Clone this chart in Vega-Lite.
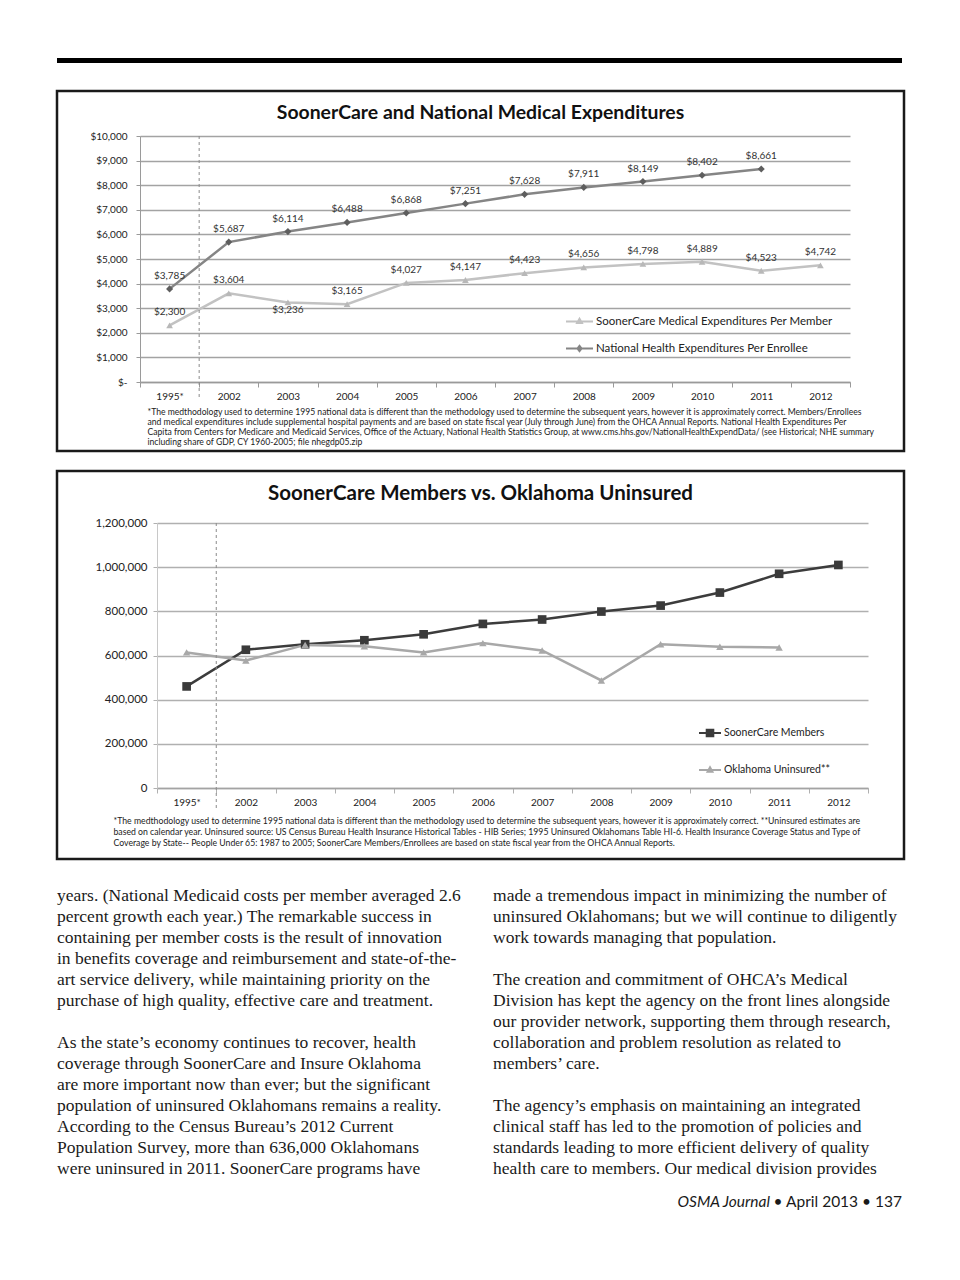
{
  "$schema": "https://vega.github.io/schema/vega-lite/v6.json",
  "padding": {"left": 55, "top": 58, "right": 10, "bottom": 10},
  "background": "white",
  "config": {"view": {"stroke": null}, "font": "Lato"},
  "spacing": 24,
  "resolve": {"scale": {"x": "independent", "y": "independent", "color": "independent", "shape": "independent", "size": "independent"}, "legend": {"color": "independent"}},
  "vconcat": [
    {
      "spacing": 16,
      "resolve": {"scale": {"x": "independent", "y": "independent", "color": "independent", "shape": "independent", "size": "independent"}, "legend": {"color": "independent"}},
      "vconcat": [
        {
          "spacing": 26,
          "resolve": {"scale": {"x": "independent", "y": "independent", "color": "independent", "shape": "independent", "size": "independent"}, "legend": {"color": "independent"}},
          "vconcat": [
            {
              "width": 845,
              "height": 5,
              "data": {"values": [{}]},
              "mark": {"type": "rect", "color": "#000000"},
              "encoding": {}
            },
            {
              "width": 847,
              "height": 360,
              "view": {"stroke": "#1a1a1a", "strokeWidth": 2.5, "fill": "white"},
              "title": {"text": "SoonerCare and National Medical Expenditures", "offset": -32, "fontSize": 19.4, "fontWeight": "bold", "font": "Lato", "color": "#111111", "anchor": "middle"},
              "data": {"values": [
                {"year": "1995*", "series": "SoonerCare Medical Expenditures Per Member", "value": 2300},
                {"year": "2002", "series": "SoonerCare Medical Expenditures Per Member", "value": 3604},
                {"year": "2003", "series": "SoonerCare Medical Expenditures Per Member", "value": 3236},
                {"year": "2004", "series": "SoonerCare Medical Expenditures Per Member", "value": 3165},
                {"year": "2005", "series": "SoonerCare Medical Expenditures Per Member", "value": 4027},
                {"year": "2006", "series": "SoonerCare Medical Expenditures Per Member", "value": 4147},
                {"year": "2007", "series": "SoonerCare Medical Expenditures Per Member", "value": 4423},
                {"year": "2008", "series": "SoonerCare Medical Expenditures Per Member", "value": 4656},
                {"year": "2009", "series": "SoonerCare Medical Expenditures Per Member", "value": 4798},
                {"year": "2010", "series": "SoonerCare Medical Expenditures Per Member", "value": 4889},
                {"year": "2011", "series": "SoonerCare Medical Expenditures Per Member", "value": 4523},
                {"year": "2012", "series": "SoonerCare Medical Expenditures Per Member", "value": 4742},
                {"year": "1995*", "series": "National Health Expenditures Per Enrollee", "value": 3785},
                {"year": "2002", "series": "National Health Expenditures Per Enrollee", "value": 5687},
                {"year": "2003", "series": "National Health Expenditures Per Enrollee", "value": 6114},
                {"year": "2004", "series": "National Health Expenditures Per Enrollee", "value": 6488},
                {"year": "2005", "series": "National Health Expenditures Per Enrollee", "value": 6868},
                {"year": "2006", "series": "National Health Expenditures Per Enrollee", "value": 7251},
                {"year": "2007", "series": "National Health Expenditures Per Enrollee", "value": 7628},
                {"year": "2008", "series": "National Health Expenditures Per Enrollee", "value": 7911},
                {"year": "2009", "series": "National Health Expenditures Per Enrollee", "value": 8149},
                {"year": "2010", "series": "National Health Expenditures Per Enrollee", "value": 8402},
                {"year": "2011", "series": "National Health Expenditures Per Enrollee", "value": 8661}
              ]},
              "layer": [
                {
                  "mark": {"type": "line", "strokeWidth": 2.5},
                  "encoding": {
                    "x": {"field": "year", "type": "nominal", "sort": null,
                      "scale": {"type": "band", "domain": ["1995*", "2002", "2003", "2004", "2005", "2006", "2007", "2008", "2009", "2010", "2011", "2012"], "range": [83, 793], "paddingInner": 0, "paddingOuter": 0},
                      "axis": {"orient": "bottom", "offset": -69, "labelAngle": 0, "grid": false, "labelFontSize": 10, "labelColor": "#222222", "labelPadding": 4, "tickBand": "extent", "tickSize": 5, "tickColor": "#9a9a9a", "domainColor": "#9a9a9a", "domainWidth": 1.5,
                        "title": ["*The medthodology used to determine 1995 national data is different than the methodology used to determine the subsequent years, however it is approximately correct. Members/Enrollees", "and medical expenditures include supplemental hospital payments and  are based on state fiscal year (July through June) from the OHCA Annual Reports. National Health Expenditures Per", "Capita from Centers for Medicare and Medicaid Services, Office of the Actuary, National Health Statistics Group, at www.cms.hhs.gov/NationalHealthExpendData/ (see Historical; NHE summary", "including share of GDP, CY 1960-2005; file nhegdp05.zip"],
                        "titleX": 90, "titleY": 25, "titleAnchor": "start", "titleAlign": "left", "titleBaseline": "top", "titleFontSize": 8.6, "titleFontWeight": "normal", "titleLineHeight": 10, "titleColor": "#222222", "titleFont": "Lato"}},
                    "y": {"field": "value", "type": "quantitative",
                      "scale": {"domain": [0, 10000], "range": [291, 45], "nice": false, "zero": false},
                      "axis": {"orient": "left", "offset": -83, "values": [0, 1000, 2000, 3000, 4000, 5000, 6000, 7000, 8000, 9000, 10000], "tickCount": 20, "labelOverlap": false, "labelExpr": "datum.value === 0 ? '$-' : '$' + format(datum.value, ',')", "title": null, "grid": true, "gridColor": "#a3a3a3", "gridWidth": 1.5, "domainColor": "#9a9a9a", "tickColor": "#9a9a9a", "tickSize": 4, "labelPadding": 9, "labelFontSize": 10, "labelColor": "#222222"}},
                    "color": {"field": "series", "type": "nominal",
                      "scale": {"domain": ["SoonerCare Medical Expenditures Per Member", "National Health Expenditures Per Enrollee"], "range": ["#c2c2c2", "#858585"]},
                      "legend": {"orient": "none", "legendX": 508, "legendY": 216, "title": null, "padding": 0, "symbolSize": 729, "symbolType": "M-1,0H1", "symbolStrokeWidth": 2, "labelOffset": 2, "labelFontSize": 11.5, "labelLimit": 400, "labelColor": "#222222", "rowPadding": 6,
                        "encode": {"symbols": {"update": {
                          "shape": {"signal": "datum.value === 'SoonerCare Medical Expenditures Per Member' ? 'M-1,0H1M0,-0.2L0.18,0.12L-0.18,0.12Z' : 'M-1,0H1M0,-0.2L0.15,0L0,0.2L-0.15,0Z'"},
                          "fill": {"signal": "datum.value === 'SoonerCare Medical Expenditures Per Member' ? '#b8b8b8' : '#666666'"},
                          "stroke": {"signal": "datum.value === 'SoonerCare Medical Expenditures Per Member' ? '#c2c2c2' : '#858585'"},
                          "strokeWidth": {"value": 2}
                        }}}}}
                  }
                },
                {
                  "transform": [{"filter": "datum.series === 'SoonerCare Medical Expenditures Per Member'"}],
                  "mark": {"type": "point", "filled": true, "opacity": 1, "size": 45, "shape": "triangle-up", "color": "#b8b8b8"},
                  "encoding": {
                    "x": {"field": "year", "type": "nominal"},
                    "y": {"field": "value", "type": "quantitative"}
                  }
                },
                {
                  "transform": [{"filter": "datum.series === 'National Health Expenditures Per Enrollee'"}],
                  "mark": {"type": "point", "filled": true, "opacity": 1, "size": 50, "shape": "diamond", "color": "#5e5e5e"},
                  "encoding": {
                    "x": {"field": "year", "type": "nominal"},
                    "y": {"field": "value", "type": "quantitative"}
                  }
                },
                {
                  "transform": [{"filter": "!(datum.year === '2003' && datum.series === 'SoonerCare Medical Expenditures Per Member')"}],
                  "mark": {"type": "text", "dy": -13, "fontSize": 10, "color": "#333333", "font": "Lato"},
                  "encoding": {
                    "x": {"field": "year", "type": "nominal"},
                    "y": {"field": "value", "type": "quantitative"},
                    "text": {"field": "value", "type": "quantitative", "format": "$,.0f"}
                  }
                },
                {
                  "transform": [{"filter": "datum.year === '2003' && datum.series === 'SoonerCare Medical Expenditures Per Member'"}],
                  "mark": {"type": "text", "dy": 8, "fontSize": 10, "color": "#333333", "font": "Lato"},
                  "encoding": {
                    "x": {"field": "year", "type": "nominal"},
                    "y": {"field": "value", "type": "quantitative"},
                    "text": {"field": "value", "type": "quantitative", "format": "$,.0f"}
                  }
                },
                {
                  "data": {"values": [{}]},
                  "mark": {"type": "rule", "strokeDash": [3, 3], "color": "#8a8a8a", "strokeWidth": 1, "clip": false},
                  "encoding": {
                    "x": {"datum": "2002", "type": "nominal", "bandPosition": 0},
                    "y": {"datum": 10000, "type": "quantitative"},
                    "y2": {"datum": -690}
                  }
                }
              ]
            }
          ]
        },
        {
          "width": 847,
          "height": 388,
          "view": {"stroke": "#1a1a1a", "strokeWidth": 2.5, "fill": "white"},
          "title": {"text": "SoonerCare Members vs. Oklahoma Uninsured", "offset": -33, "fontSize": 20.5, "fontWeight": "bold", "font": "Lato", "color": "#111111", "anchor": "middle"},
          "data": {"values": [
            {"year": "1995*", "series": "SoonerCare Members", "value": 460000},
            {"year": "2002", "series": "SoonerCare Members", "value": 626000},
            {"year": "2003", "series": "SoonerCare Members", "value": 651000},
            {"year": "2004", "series": "SoonerCare Members", "value": 669000},
            {"year": "2005", "series": "SoonerCare Members", "value": 696000},
            {"year": "2006", "series": "SoonerCare Members", "value": 743000},
            {"year": "2007", "series": "SoonerCare Members", "value": 763000},
            {"year": "2008", "series": "SoonerCare Members", "value": 799000},
            {"year": "2009", "series": "SoonerCare Members", "value": 826000},
            {"year": "2010", "series": "SoonerCare Members", "value": 885000},
            {"year": "2011", "series": "SoonerCare Members", "value": 970000},
            {"year": "2012", "series": "SoonerCare Members", "value": 1010000},
            {"year": "1995*", "series": "Oklahoma Uninsured**", "value": 614000},
            {"year": "2002", "series": "Oklahoma Uninsured**", "value": 577000},
            {"year": "2003", "series": "Oklahoma Uninsured**", "value": 648000},
            {"year": "2004", "series": "Oklahoma Uninsured**", "value": 642000},
            {"year": "2005", "series": "Oklahoma Uninsured**", "value": 614000},
            {"year": "2006", "series": "Oklahoma Uninsured**", "value": 656000},
            {"year": "2007", "series": "Oklahoma Uninsured**", "value": 623000},
            {"year": "2008", "series": "Oklahoma Uninsured**", "value": 487000},
            {"year": "2009", "series": "Oklahoma Uninsured**", "value": 651000},
            {"year": "2010", "series": "Oklahoma Uninsured**", "value": 640000},
            {"year": "2011", "series": "Oklahoma Uninsured**", "value": 636000}
          ]},
          "layer": [
            {
              "mark": {"type": "line", "strokeWidth": 2.5},
              "encoding": {
                "x": {"field": "year", "type": "nominal", "sort": null,
                  "scale": {"type": "band", "domain": ["1995*", "2002", "2003", "2004", "2005", "2006", "2007", "2008", "2009", "2010", "2011", "2012"], "range": [100, 811], "paddingInner": 0, "paddingOuter": 0},
                  "axis": {"orient": "bottom", "offset": -71, "labelAngle": 0, "grid": false, "labelFontSize": 10, "labelColor": "#222222", "labelPadding": 4, "tickBand": "extent", "tickSize": 5, "tickColor": "#b0b0b0", "domainColor": "#a3a3a3", "domainWidth": 1.5,
                    "title": ["*The medthodology used to determine 1995 national data is different than the methodology used to determine the subsequent years, however it is approximately correct. **Uninsured estimates are", "based on calendar year.  Uninsured source: US Census Bureau Health Insurance Historical Tables - HIB Series; 1995 Uninsured Oklahomans Table HI-6. Health Insurance Coverage Status and Type of", "Coverage by State-- People Under 65: 1987 to 2005; SoonerCare Members/Enrollees are based on state fiscal year from the OHCA Annual Reports."],
                    "titleX": 56, "titleY": 28, "titleAnchor": "start", "titleAlign": "left", "titleBaseline": "top", "titleFontSize": 8.7, "titleFontWeight": "normal", "titleLineHeight": 11, "titleColor": "#222222", "titleFont": "Lato"}},
                "y": {"field": "value", "type": "quantitative",
                  "scale": {"domain": [0, 1200000], "range": [317, 52], "nice": false, "zero": false},
                  "axis": {"orient": "left", "offset": -100, "values": [0, 200000, 400000, 600000, 800000, 1000000, 1200000], "tickCount": 20, "labelOverlap": false, "labelExpr": "format(datum.value, ',')", "title": null, "grid": true, "gridColor": "#b0b0b0", "gridWidth": 1.5, "domainColor": "#c8c8c8", "tickColor": "#b0b0b0", "tickSize": 4, "labelPadding": 6, "labelFontSize": 11.5, "labelColor": "#222222"}},
                "color": {"field": "series", "type": "nominal",
                  "scale": {"domain": ["SoonerCare Members", "Oklahoma Uninsured**"], "range": ["#3c3c3c", "#a8a8a8"]},
                  "legend": {"orient": "none", "legendX": 641, "legendY": 250, "title": null, "padding": 0, "symbolSize": 484, "symbolType": "M-1,0H1", "symbolStrokeWidth": 2, "labelOffset": 2, "labelFontSize": 10.5, "labelLimit": 400, "labelColor": "#222222", "rowPadding": 17,
                    "encode": {"symbols": {"update": {
                      "shape": {"signal": "datum.value === 'SoonerCare Members' ? 'M-1,0H1M-0.3,-0.3H0.3V0.3H-0.3Z' : 'M-1,0H1M0,-0.25L0.22,0.15L-0.22,0.15Z'"},
                      "fill": {"signal": "datum.value === 'SoonerCare Members' ? '#3a3a3a' : '#a8a8a8'"},
                      "stroke": {"signal": "datum.value === 'SoonerCare Members' ? '#3c3c3c' : '#a8a8a8'"},
                      "strokeWidth": {"value": 2}
                    }}}}}
              }
            },
            {
              "transform": [{"filter": "datum.series === 'SoonerCare Members'"}],
              "mark": {"type": "point", "filled": true, "opacity": 1, "size": 75, "shape": "square", "color": "#3a3a3a"},
              "encoding": {
                "x": {"field": "year", "type": "nominal"},
                "y": {"field": "value", "type": "quantitative"}
              }
            },
            {
              "transform": [{"filter": "datum.series === 'Oklahoma Uninsured**'"}],
              "mark": {"type": "point", "filled": true, "opacity": 1, "size": 55, "shape": "triangle-up", "color": "#a8a8a8"},
              "encoding": {
                "x": {"field": "year", "type": "nominal"},
                "y": {"field": "value", "type": "quantitative"}
              }
            },
            {
              "data": {"values": [{}]},
              "mark": {"type": "rule", "strokeDash": [3, 3], "color": "#8a8a8a", "strokeWidth": 1, "clip": false},
              "encoding": {
                "x": {"datum": "2002", "type": "nominal", "bandPosition": 0},
                "y": {"datum": 1200000, "type": "quantitative"},
                "y2": {"datum": -95000}
              }
            }
          ]
        }
      ]
    },
    {
      "width": 845,
      "height": 336,
      "layer": [
        {
          "data": {"values": [
            {"col": "left", "line": 1, "text": "years. (National Medicaid costs per member averaged 2.6"},
            {"col": "left", "line": 2, "text": "percent growth each year.) The remarkable success in"},
            {"col": "left", "line": 3, "text": "containing per member costs is the result of innovation"},
            {"col": "left", "line": 4, "text": "in benefits coverage and reimbursement and state-of-the-"},
            {"col": "left", "line": 5, "text": "art service delivery, while maintaining priority on the"},
            {"col": "left", "line": 6, "text": "purchase of high quality, effective care and treatment."},
            {"col": "left", "line": 8, "text": "As the state’s economy continues to recover, health"},
            {"col": "left", "line": 9, "text": "coverage through SoonerCare and Insure Oklahoma"},
            {"col": "left", "line": 10, "text": "are more important now than ever; but the significant"},
            {"col": "left", "line": 11, "text": "population of uninsured Oklahomans remains a reality."},
            {"col": "left", "line": 12, "text": "According to the Census Bureau’s 2012 Current"},
            {"col": "left", "line": 13, "text": "Population Survey, more than 636,000 Oklahomans"},
            {"col": "left", "line": 14, "text": "were uninsured in 2011. SoonerCare programs have"},
            {"col": "right", "line": 1, "text": "made a tremendous impact in minimizing the number of"},
            {"col": "right", "line": 2, "text": "uninsured Oklahomans; but we will continue to diligently"},
            {"col": "right", "line": 3, "text": "work towards managing that population."},
            {"col": "right", "line": 5, "text": "The creation and commitment of OHCA’s Medical"},
            {"col": "right", "line": 6, "text": "Division has kept the agency on the front lines alongside"},
            {"col": "right", "line": 7, "text": "our provider network, supporting them through research,"},
            {"col": "right", "line": 8, "text": "collaboration and problem resolution as related to"},
            {"col": "right", "line": 9, "text": "members’ care."},
            {"col": "right", "line": 11, "text": "The agency’s emphasis on maintaining an integrated"},
            {"col": "right", "line": 12, "text": "clinical staff has led to the promotion of policies and"},
            {"col": "right", "line": 13, "text": "standards leading to more efficient delivery of quality"},
            {"col": "right", "line": 14, "text": "health care to members. Our medical division provides"}
          ]},
          "mark": {"type": "text", "align": "left", "baseline": "middle", "font": "Liberation Serif", "fontSize": 17.5, "color": "#1a1a1a"},
          "encoding": {
            "x": {"field": "col", "type": "nominal", "bandPosition": 0, "scale": {"type": "band", "domain": ["left", "right"], "paddingInner": 0.062, "paddingOuter": 0}, "axis": null},
            "y": {"field": "line", "type": "ordinal", "scale": {"type": "point", "domain": [1, 2, 3, 4, 5, 6, 7, 8, 9, 10, 11, 12, 13, 14, 15, 16], "padding": 0.5}, "axis": null},
            "text": {"field": "text"}
          }
        },
        {
          "data": {"values": [{"col": "right", "line": 16, "text": "• April 2013 • 137"}]},
          "mark": {"type": "text", "align": "right", "baseline": "middle", "font": "Lato", "fontSize": 15.5, "color": "#1a1a1a", "dy": -9},
          "encoding": {
            "x": {"field": "col", "type": "nominal", "bandPosition": 1},
            "y": {"field": "line", "type": "ordinal"},
            "text": {"field": "text"}
          }
        },
        {
          "data": {"values": [{"col": "right", "line": 16, "text": "OSMA Journal"}]},
          "mark": {"type": "text", "align": "right", "baseline": "middle", "font": "Lato", "fontSize": 15.5, "fontStyle": "italic", "color": "#1a1a1a", "dy": -9, "dx": -132},
          "encoding": {
            "x": {"field": "col", "type": "nominal", "bandPosition": 1},
            "y": {"field": "line", "type": "ordinal"},
            "text": {"field": "text"}
          }
        }
      ]
    }
  ]
}
